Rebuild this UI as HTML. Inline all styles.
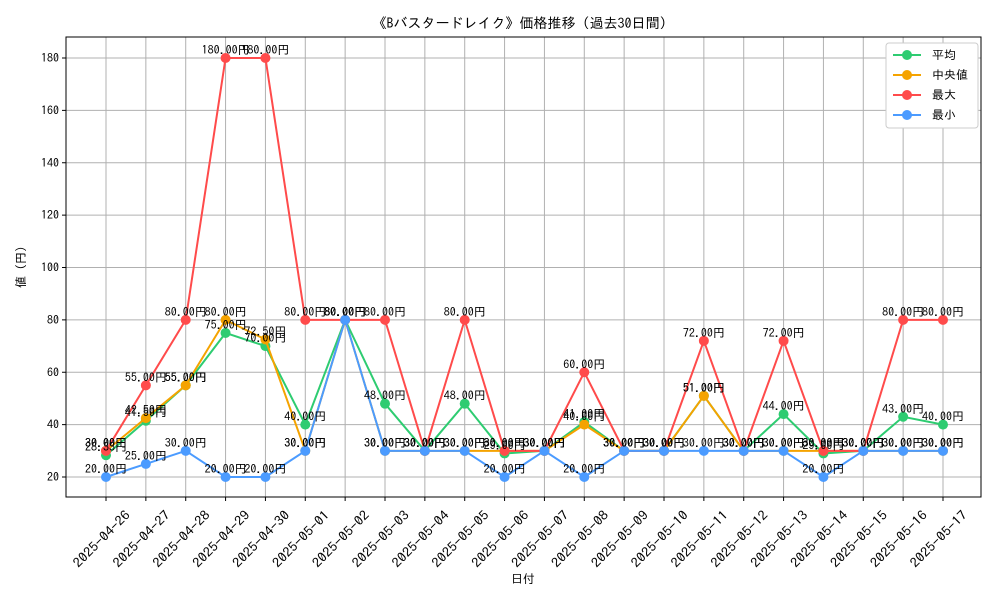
<!DOCTYPE html>
<html><head><meta charset="utf-8"><style>
body{margin:0;background:#fff;}
svg text{font-family:"IPAGothic","Liberation Sans",sans-serif;}
</style></head><body>
<svg id="c" width="1000" height="600" xmlns="http://www.w3.org/2000/svg"></svg>
<script>
const dates=["2025-04-26","2025-04-27","2025-04-28","2025-04-29","2025-04-30","2025-05-01","2025-05-02","2025-05-03","2025-05-04","2025-05-05","2025-05-06","2025-05-07","2025-05-08","2025-05-09","2025-05-10","2025-05-11","2025-05-12","2025-05-13","2025-05-14","2025-05-15","2025-05-16","2025-05-17"];
const avgVals=[28.33,41.5,55,75,70,40,80,48,30,48,29,30,41,30,30,51,30,44,29,30,43,40];
const medVals=[30,42.5,55,80,72.5,30,80,30,30,30,30,30,40,30,30,51,30,30,30,30,30,30];
const maxVals=[30,55,80,180,180,80,80,80,30,80,30,30,60,30,30,72,30,72,30,30,80,80];
const minVals=[20,25,30,20,20,30,80,30,30,30,20,30,20,30,30,30,30,30,20,30,30,30];
const yTicks=[20,40,60,80,100,120,140,160,180];
const seriesNames=["平均","中央値","最大","最小"];
const colors=["#2ecc71","#f5a300","#ff4b4b","#4b9bff"];
const svg=document.getElementById('c');const NS="http://www.w3.org/2000/svg";
function mk(t,a,p){const e=document.createElementNS(NS,t);for(const k in a)e.setAttribute(k,a[k]);(p||svg).appendChild(e);return e;}
const L=66,R=981,T=37,B=497;
const x=i=>106+i*(943-106)/(dates.length-1);
const y=v=>477-(v-20)*(477-58)/160;
let g=mk('g',{});
dates.forEach((d,i)=>{mk('line',{x1:x(i),x2:x(i),y1:T,y2:B,stroke:'#b0b0b0','stroke-width':1},g);
 const t=mk('text',{x:0,y:0,'font-size':13,'text-anchor':'end',textLength:74,lengthAdjust:'spacingAndGlyphs',transform:`translate(${x(i)+25},${B+19}) rotate(-45)`});t.textContent=d;
 
 mk('line',{x1:x(i),x2:x(i),y1:B,y2:B+4,stroke:'#000'});});
yTicks.forEach(v=>{mk('line',{x1:L,x2:R,y1:y(v),y2:y(v),stroke:'#b0b0b0','stroke-width':1},g);
 mk('line',{x1:L-4,x2:L,y1:y(v),y2:y(v),stroke:'#000'});
 const t=mk('text',{x:L-7,y:y(v)+4,'font-size':12,'text-anchor':'end'});t.textContent=v;
 });
const fr=mk('rect',{x:L,y:T,width:R-L,height:B-T,fill:'none',stroke:'#000','stroke-width':1});

const all=[avgVals,medVals,maxVals,minVals];
all.forEach((vals,s)=>{const sg=mk('g',{});
 mk('polyline',{points:vals.map((v,i)=>x(i)+','+y(v)).join(' '),fill:'none',stroke:colors[s],'stroke-width':2},sg);
 vals.forEach((v,i)=>{const c=mk('circle',{cx:x(i),cy:y(v),r:5,fill:colors[s]},sg);});});
all.forEach((vals,s)=>{vals.forEach((v,i)=>{const t=mk('text',{x:x(i),y:y(v)-4,'font-size':12,'text-anchor':'middle',fill:'#000'});t.textContent=v.toFixed(2)+'円';
 });});
let t=mk('text',{x:523,y:28,'font-size':14,'text-anchor':'middle'});t.textContent='《Bバスタードレイク》価格推移（過去30日間）';

t=mk('text',{x:523,y:583,'font-size':12,'text-anchor':'middle'});t.textContent='日付';

t=mk('text',{x:0,y:0,'font-size':12,'text-anchor':'middle',transform:'translate(25,267) rotate(-90)'});t.textContent='値 (円)';

const lg=mk('g',{});
mk('rect',{x:886,y:43,width:92,height:85,fill:'#fff',stroke:'#ccc',rx:3},lg);
seriesNames.forEach((n,s)=>{const yy=55+s*20;const e=mk('g',{},lg);
 mk('line',{x1:893,x2:921,y1:yy,y2:yy,stroke:colors[s],'stroke-width':2},e);mk('circle',{cx:907,cy:yy,r:5,fill:colors[s]},e);
 const tt=mk('text',{x:932,y:yy+4,'font-size':12},e);tt.textContent=n;});
</script></body></html>
